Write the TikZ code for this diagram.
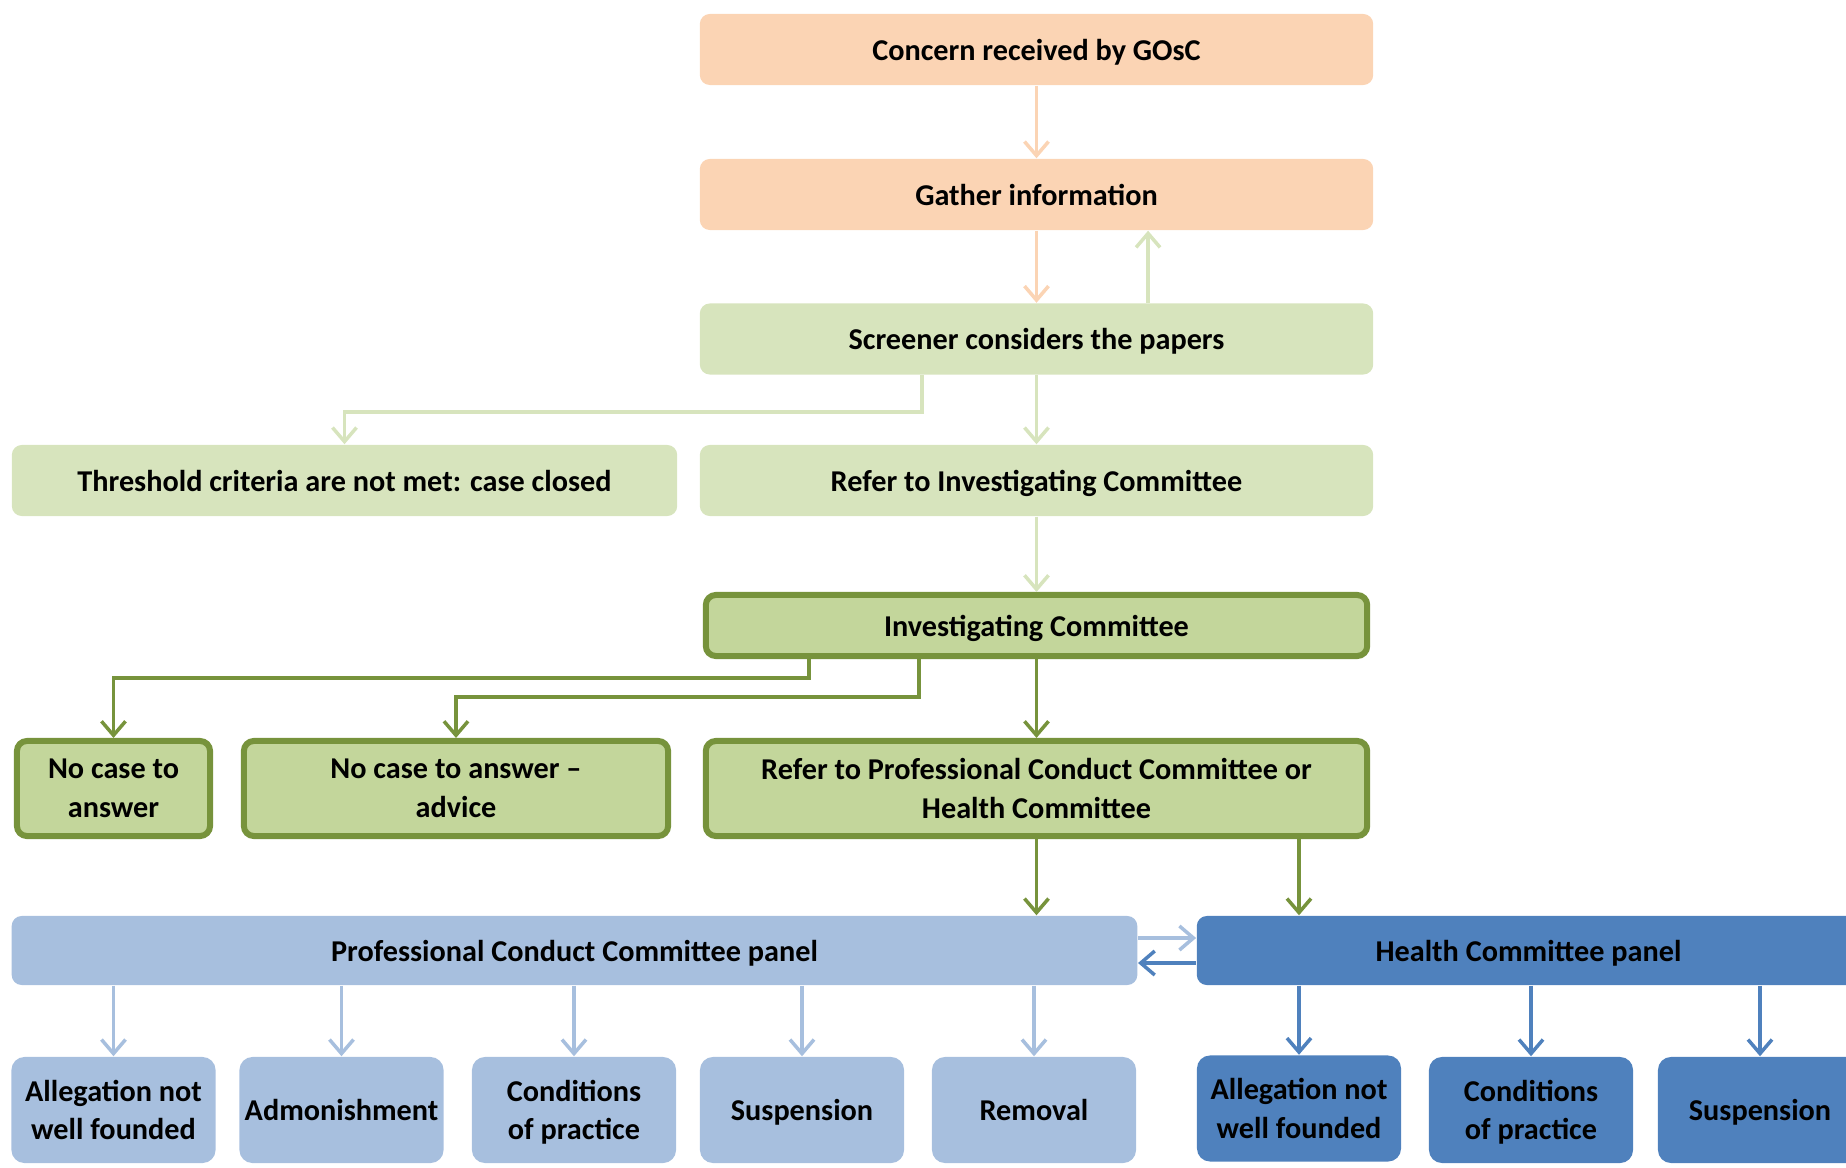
\documentclass[tikz,border=0pt]{standalone}
\usepackage{fontspec}
\setmainfont{Carlito}
\usetikzlibrary{arrows.meta}

\definecolor{peach}{HTML}{FBD4B4}
\definecolor{lgreen}{HTML}{D7E4BD}
\definecolor{mgreen}{HTML}{C3D69B}
\definecolor{dgreen}{HTML}{77933C}
\definecolor{lblue}{HTML}{A7BFDE}
\definecolor{dblue}{HTML}{4F81BD}

\begin{document}
\begin{tikzpicture}[x=0.01cm, y=-0.01cm,
    every node/.style={rectangle, rounded corners=0.1cm, inner sep=0pt, align=center,
        text depth=0pt, font=\fontsize{8.6}{11}\selectfont\bfseries},
    wide/.style={minimum width=6.73cm, minimum height=0.71cm},
    peachbox/.style={wide, fill=peach},
    lgbox/.style={wide, fill=lgreen},
    icbox/.style={fill=mgreen, draw=dgreen, line width=0.06cm},
    lbbox/.style={fill=lblue, minimum width=2.04cm, minimum height=1.06cm, rounded corners=0.13cm},
    dbbox/.style={fill=dblue, minimum width=2.04cm, minimum height=1.06cm, rounded corners=0.13cm},
    arr/.style={-{Straight Barb[length=0.14cm, width=0.24cm]}, line width=0.035cm},
    pcarr/.style={arr, draw=peach},
    lgarr/.style={arr, draw=lgreen},
    dgarr/.style={arr, draw=dgreen},
    lbarr/.style={arr, draw=lblue},
    dbarr/.style={arr, draw=dblue}]

    \useasboundingbox (0,0) rectangle (1846,1167);

    % Screening
    \node[peachbox] (concern) at (1036.5,49.5) {Concern received by GOsC};
    \node[peachbox] (gather) at (1036.5,194.5) {Gather information};
    \node[lgbox] (screener) at (1036.5,339) {Screener considers the papers};
    \node[lgbox, minimum width=6.65cm] (closed) at (344.5,480.5) {Threshold criteria are not met: case closed};
    \node[lgbox] (referic) at (1036.5,480.5) {Refer to Investigating Committee};

    % Investigating Committee
    \node[icbox, minimum width=6.61cm, minimum height=0.61cm] (ic) at (1036.5,625.5) {Investigating Committee};
    \node[icbox, minimum width=1.93cm, minimum height=0.95cm] (nocase) at (113.5,788.5) {No case to\\answer};
    \node[icbox, minimum width=4.24cm, minimum height=0.95cm] (advice) at (456,788.5) {No case to answer --\\advice};
    \node[icbox, minimum width=6.61cm, minimum height=0.95cm] (referpc) at (1036.5,788.5) {Refer to Professional Conduct Committee or\\Health Committee};

    % Panels
    \node[fill=lblue, minimum width=11.25cm, minimum height=0.69cm] (pcc) at (574.5,950.5) {Professional Conduct Committee panel};
    \node[fill=dblue, minimum width=6.63cm, minimum height=0.69cm] (hc) at (1528.5,950.5) {Health Committee panel};

    % Outcomes
    \node[lbbox] (pa) at (113.5,1110) {Allegation not\\well founded};
    \node[lbbox] (pb) at (341.5,1110) {Admonishment};
    \node[lbbox] (pc) at (574,1110) {Conditions\\of practice};
    \node[lbbox] (pd) at (802,1110) {Suspension};
    \node[lbbox] (pe) at (1034,1110) {Removal};
    \node[dbbox] (ha) at (1299,1108.5) {Allegation not\\well founded};
    \node[dbbox] (hb) at (1531,1110) {Conditions\\of practice};
    \node[dbbox] (hd) at (1760,1110) {Suspension};

    % Arrows
    \draw[pcarr] (concern) -- (gather);
    \draw[pcarr] (gather) -- (screener);
    \draw[lgarr] ([xshift=1.115cm]screener.north) -- ([xshift=1.115cm]gather.south);
    \draw[lgarr] ([xshift=-1.145cm]screener.south) -- ++(0,-0.37cm) -| (closed.north);
    \draw[lgarr] (screener) -- (referic);
    \draw[lgarr] (referic) -- (ic);
    \draw[dgarr] ([xshift=-2.275cm]ic.south) -- ++(0,-0.19cm) -| (nocase.north);
    \draw[dgarr] ([xshift=-1.175cm]ic.south) -- ++(0,-0.38cm) -| (advice.north);
    \draw[dgarr] (ic) -- (referpc);
    \draw[dgarr] (referpc.south) -- (referpc.south |- pcc.north);
    \draw[dgarr] (referpc.south -| ha.north) -- (hc.north -| ha.north);
    \draw[lbarr] ([yshift=0.125cm]pcc.east) -- ([yshift=0.125cm]hc.west);
    \draw[dbarr] ([yshift=-0.125cm]hc.west) -- ([yshift=-0.125cm]pcc.east);
    \foreach \n in {pa,pb,pc,pd,pe}
        \draw[lbarr] (pcc.south -| \n.north) -- (\n.north);
    \foreach \n in {ha,hb,hd}
        \draw[dbarr] (hc.south -| \n.north) -- (\n.north);
\end{tikzpicture}
\end{document}
